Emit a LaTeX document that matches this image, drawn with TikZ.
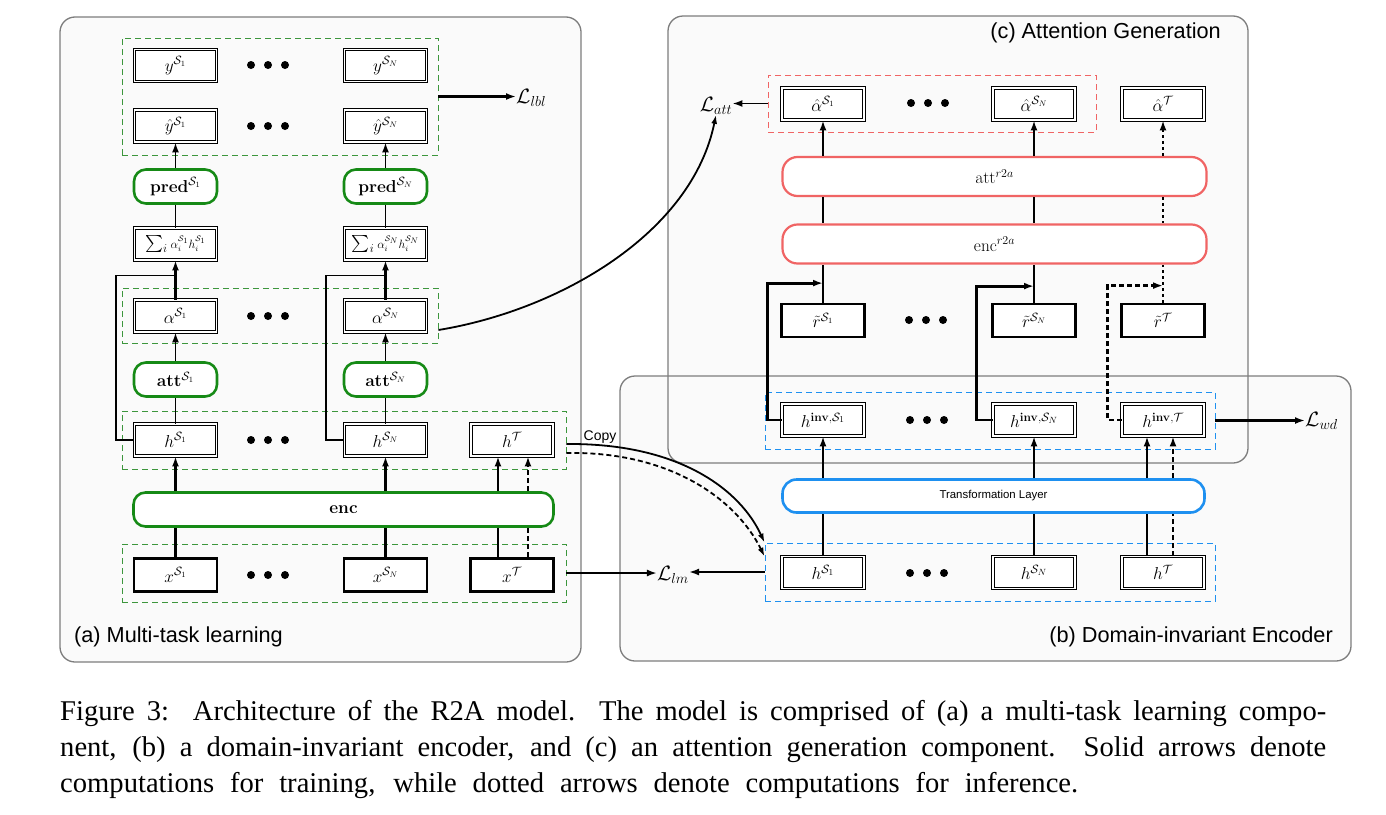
\documentclass[tikz,border=0pt]{standalone}
\usepackage[no-math]{fontspec}
\usepackage{amsmath,amssymb}
\usetikzlibrary{arrows.meta,calc}
\newfontfamily\capfont{Liberation Serif}
\newfontfamily\lblfont{Liberation Sans}
\definecolor{mgreen}{RGB}{22,138,22}
\definecolor{dgreen}{RGB}{60,150,60}
\definecolor{mred}{RGB}{240,100,100}
\definecolor{mblue}{RGB}{30,144,240}
\definecolor{pfill}{RGB}{250,250,250}
\definecolor{pborder}{RGB}{125,125,125}
\newcommand\threedots[1]{\fill[shift={(#1)}] (-17,0) circle (4pt) (0,0) circle (4pt) (17,0) circle (4pt);}
\tikzset{
  mfont/.style={font=\fontsize{17}{20}\selectfont},
  lfont/.style={font=\fontsize{20}{22}\selectfont},
  dbox/.style={mfont, draw, double, double distance=1.5pt, line width=0.9pt, fill=white, minimum width=82pt, minimum height=32pt, inner sep=0pt},
  tbox/.style={mfont, draw, line width=2.8pt, fill=white, minimum width=83pt, minimum height=33pt, inner sep=0pt},
  gmod/.style={mfont, draw=mgreen, line width=2.6pt, rounded corners=12pt, fill=white, minimum width=83pt, minimum height=34pt, inner sep=0pt},
  rmod/.style={mfont, draw=mred, line width=2.2pt, rounded corners=15pt, fill=white, minimum width=424pt, minimum height=39pt, inner sep=0pt},
  bmod/.style={draw=mblue, line width=2.6pt, rounded corners=14pt, fill=white, minimum width=422pt, minimum height=33pt, inner sep=0pt, font=\lblfont\fontsize{11.4}{13}\selectfont},
  gdash/.style={draw=dgreen, line width=0.9pt, dash pattern=on 6pt off 4pt, inner sep=0pt},
  rdash/.style={draw=mred, line width=0.9pt, dash pattern=on 6pt off 4pt, inner sep=0pt},
  bdash/.style={draw=mblue, line width=0.9pt, dash pattern=on 6pt off 4pt, inner sep=0pt},
  ln/.style={line width=1.8pt},
  tk/.style={line width=2.9pt},
  ar/.style={-{Latex[length=10pt,width=7pt]}},
  dsh/.style={dash pattern=on 5pt off 3pt},
  dtt/.style={dash pattern=on 3pt off 3pt},
  lbl/.style={font=\lblfont\fontsize{21.7}{24}\selectfont, inner sep=0pt},
  capt/.style={anchor=base west, inner sep=0pt, font=\capfont\fontsize{28.6}{30}\selectfont},
}
\begin{document}
\begin{tikzpicture}[x=1pt,y=-1pt]
\useasboundingbox (0,0) rectangle (1386,814);
% panels
\path[fill=pfill, rounded corners=15pt] (60,17) rectangle (581,662);
\path[fill=pfill, rounded corners=15pt] (620,376) rectangle (1351,661);
\path[fill=pfill, rounded corners=15pt] (668,16) rectangle (1248,463);
\draw[pborder, line width=1.3pt, rounded corners=15pt] (60,17) rectangle (581,662);
\draw[pborder, line width=1.3pt, rounded corners=15pt] (620,376) rectangle (1351,661);
\draw[pborder, line width=1.3pt, rounded corners=15pt] (668,16) rectangle (1248,463);

% ---------- (a) ----------
\node[gdash, minimum width=316pt, minimum height=117pt] (g1) at (280,96.5) {};
\node[gdash, minimum width=316pt, minimum height=55pt] (g2) at (280,315.5) {};
\node[gdash, minimum width=444pt, minimum height=58pt] (g3) at (344,440) {};
\node[gdash, minimum width=444pt, minimum height=58pt] (g4) at (344,573) {};

\node[dbox] (y1) at (175.5,65.5) {$y^{\mathcal{S}_1}$};
\node[dbox] (yN) at (385.5,65.5) {$y^{\mathcal{S}_N}$};
\node[dbox] (yh1) at (175.5,126) {$\hat{y}^{\mathcal{S}_1}$};
\node[dbox] (yhN) at (385.5,126) {$\hat{y}^{\mathcal{S}_N}$};
\node[gmod] (pred1) at (175.5,186.5) {$\mathbf{pred}^{\mathcal{S}_1}$};
\node[gmod] (predN) at (385.5,186.5) {$\mathbf{pred}^{\mathcal{S}_N}$};
\node[dbox] (sum1) at (175.5,244) {$\sum_i {\scriptstyle\alpha_i^{\mathcal{S}_1} h_i^{\mathcal{S}_1}}$};
\node[dbox] (sumN) at (385.5,244) {$\sum_i {\scriptstyle\alpha_i^{\mathcal{S}_N} h_i^{\mathcal{S}_N}}$};
\node[dbox] (al1) at (175.5,316) {$\alpha^{\mathcal{S}_1}$};
\node[dbox] (alN) at (385.5,316) {$\alpha^{\mathcal{S}_N}$};
\node[gmod] (att1) at (175.5,379.5) {$\mathbf{att}^{\mathcal{S}_1}$};
\node[gmod] (attN) at (385.5,379.5) {$\mathbf{att}^{\mathcal{S}_N}$};
\node[dbox] (h1) at (175.5,440) {$h^{\mathcal{S}_1}$};
\node[dbox] (hN) at (385.5,440) {$h^{\mathcal{S}_N}$};
\node[dbox] (hT) at (512,440) {$h^{\mathcal{T}}$};
\node[gmod, minimum width=420pt] (enc) at (343.5,509.5) {$\mathbf{enc}$};
\node[tbox] (x1) at (175.5,575) {$x^{\mathcal{S}_1}$};
\node[tbox] (xN) at (385.5,575) {$x^{\mathcal{S}_N}$};
\node[tbox] (xT) at (512,575) {$x^{\mathcal{T}}$};
\threedots{268,65}
\threedots{268,126}
\threedots{268,316}
\threedots{268,440}
\threedots{268,575}

\node[lfont, anchor=west, inner sep=0pt] (Llbl) at (516,98) {$\mathcal{L}_{lbl}$};
\draw[ar,tk] (g1.east) -- (g1.east -| Llbl.west);

\foreach \c in {1,N}{
  \draw[ar,ln] (pred\c.north) -- (yh\c.south);
  \draw[ln] (sum\c.north) -- (pred\c.south);
  \draw[ar,tk] (al\c.north) -- (sum\c.south);
  \draw[ln] (h\c.west) -- ++(-18,0) |- ([yshift=-15pt]sum\c.south);
  \draw[ar,ln] (att\c.north) -- (al\c.south);
  \draw[ln] (h\c.north) -- (att\c.south);
  \draw[ar,tk] (h\c.south |- enc.north) -- (h\c.south);
  \draw[tk] (x\c.north) -- (x\c.north |- enc.south);
}
\coordinate (hTa) at ([xshift=-14pt]hT.south);
\coordinate (hTb) at ([xshift=16pt]hT.south);
\coordinate (xTa) at ([xshift=-14pt]xT.north);
\coordinate (xTb) at ([xshift=16pt]xT.north);
\draw[ar,tk] (hTa |- enc.north) -- (hTa);
\draw[ar,tk,dsh] (hTb |- enc.north) -- (hTb);
\draw[tk] (xTa) -- (xTa |- enc.south);
\draw[tk,dsh] (xTb) -- (xTb |- enc.south);

\node[lbl, anchor=west] (la) at (74,637) {(a) Multi-task learning};

% ---------- (c) ----------
\node[rdash, minimum width=328pt, minimum height=57pt] (rd) at (932,103.5) {};
\node[dbox] (ah1) at (823,104) {$\hat{\alpha}^{\mathcal{S}_1}$};
\node[dbox] (ahN) at (1034,104) {$\hat{\alpha}^{\mathcal{S}_N}$};
\node[dbox] (ahT) at (1163,104) {$\hat{\alpha}^{\mathcal{T}}$};
\node[rmod] (att2) at (994.5,176.5) {$\mathrm{att}^{r2a}$};
\node[rmod] (enc2) at (994.5,244) {$\mathrm{enc}^{r2a}$};
\node[tbox] (rt1) at (823,320.5) {$\tilde{r}^{\mathcal{S}_1}$};
\node[tbox] (rtN) at (1034,320.5) {$\tilde{r}^{\mathcal{S}_N}$};
\node[tbox] (rtT) at (1163,320.5) {$\tilde{r}^{\mathcal{T}}$};
\threedots{928,103}
\threedots{926,320}
\node[lfont, inner sep=0pt] (Latt) at (716,106) {$\mathcal{L}_{att}$};
\node[lbl, anchor=east] (lc) at (1221,33) {(c) Attention Generation};

\draw[ar,ln] (rd.west) -- (rd.west -| Latt.east);
\draw[ar,tk] (ah1.south |- att2.north) -- (ah1.south);
\draw[ar,ln] (ahN.south |- att2.north) -- (ahN.south);
\draw[ar,ln,dtt] (ahT.south |- att2.north) -- (ahT.south);
\draw[tk] (rt1.north |- att2.south) -- (rt1.north |- enc2.north);
\draw[ln] (rtN.north |- att2.south) -- (rtN.north |- enc2.north);
\draw[ln,dtt] (rtT.north |- att2.south) -- (rtT.north |- enc2.north);
\draw[tk] (rt1.north) -- (rt1.north |- enc2.south);
\draw[ln] (rtN.north) -- (rtN.north |- enc2.south);
\draw[ln,dtt] (rtT.north) -- (rtT.north |- enc2.south);

% ---------- (b) ----------
\node[bdash, minimum width=450pt, minimum height=57pt] (bb1) at (990,420.5) {};
\node[bdash, minimum width=450pt, minimum height=58pt] (bb2) at (990,572) {};
\node[dbox, font=\fontsize{18.5}{21}\selectfont] (hi1) at (823,420) {$h^{\mathbf{inv},\mathcal{S}_1}$};
\node[dbox, font=\fontsize{18.5}{21}\selectfont] (hiN) at (1034,420) {$h^{\mathbf{inv},\mathcal{S}_N}$};
\node[dbox, font=\fontsize{18.5}{21}\selectfont] (hiT) at (1163,420) {$h^{\mathbf{inv},\mathcal{T}}$};
\node[bmod] (trans) at (993.5,496) {Transformation Layer};
\node[dbox, font=\fontsize{18.5}{21}\selectfont] (bh1) at (823,572.5) {$h^{\mathcal{S}_1}$};
\node[dbox, font=\fontsize{18.5}{21}\selectfont] (bhN) at (1034,572.5) {$h^{\mathcal{S}_N}$};
\node[dbox, font=\fontsize{18.5}{21}\selectfont] (bhT) at (1163,572.5) {$h^{\mathcal{T}}$};
\threedots{927,420}
\threedots{927,573}
\node[lfont, anchor=west, inner sep=0pt] (Lwd) at (1305,421) {$\mathcal{L}_{wd}$};
\node[lfont, inner sep=0pt] (Llm) at (673,575) {$\mathcal{L}_{lm}$};
\node[lbl, anchor=east] (lb) at (1333,637) {(b) Domain-invariant Encoder};
\node[font=\lblfont\fontsize{14}{16}\selectfont, inner sep=0pt] (cp) at (600,437) {Copy};

\draw[ar,tk] (hi1.west) -- ++(-14,0) |- ([yshift=19.5pt]rt1.north);
\draw[ar,tk] (hiN.west) -- ++(-16,0) |- ([yshift=16.5pt]rtN.north);
\draw[ar,tk,dsh] (hiT.west) -- ++(-14,0) |- ([yshift=17pt]rtT.north);

\foreach \c in {1,N}{
  \draw[ar,ln] (hi\c.south |- trans.north) -- (hi\c.south);
  \draw[ln] (bh\c.north) -- (bh\c.north |- trans.south);
}
\coordinate (hiTa) at ([xshift=-16pt]hiT.south);
\coordinate (hiTb) at ([xshift=10pt]hiT.south);
\coordinate (bhTa) at ([xshift=-16pt]bhT.north);
\coordinate (bhTb) at ([xshift=10pt]bhT.north);
\draw[ar,tk] (hiTa |- trans.north) -- (hiTa);
\draw[ar,tk,dsh] (hiTb |- trans.north) -- (hiTb);
\draw[tk] (bhTa) -- (bhTa |- trans.south);
\draw[tk,dsh] (bhTb) -- (bhTb |- trans.south);

\draw[ar,tk] (bb1.east) -- (bb1.east -| Lwd.west);
\draw[ar,tk] (g4.east) -- (g4.east -| Llm.west);
\draw[ar,ln] (bb2.west) -- (bb2.west -| Llm.east);

% cross-panel curves
\draw[-{Latex[length=9pt,width=6pt]},ln] ([yshift=-4pt]g3.east) .. controls +(114,-1) and +(-24,-52) .. (bb2.north west);
\draw[-{Latex[length=9pt,width=6pt]},ln,dsh] ([yshift=-13pt]g3.east) .. controls +(104,-2) and +(-28,-57) .. ([yshift=-14pt]bb2.north west);
\draw[-{Latex[length=9pt,width=6pt]},ln] ([yshift=-14.5pt]g2.east) .. controls +(122,-20) and +(-24,118) .. (Latt.south);

% caption
\node[capt] (cap1) at (60,720) {\makebox[1266pt][s]{Figure 3:\ \ Architecture of the R2A model. The model is comprised of (a) a multi-task learning compo-}};
\node[capt] (cap2) at (60,756) {\makebox[1266pt][s]{nent, (b) a domain-invariant encoder, and (c) an attention generation component.\ \ Solid arrows denote}};
\node[capt] (cap3) at (60,792) {\makebox[1018pt][s]{computations for training, while dotted arrows denote computations for inference.}};
\end{tikzpicture}
\end{document}
